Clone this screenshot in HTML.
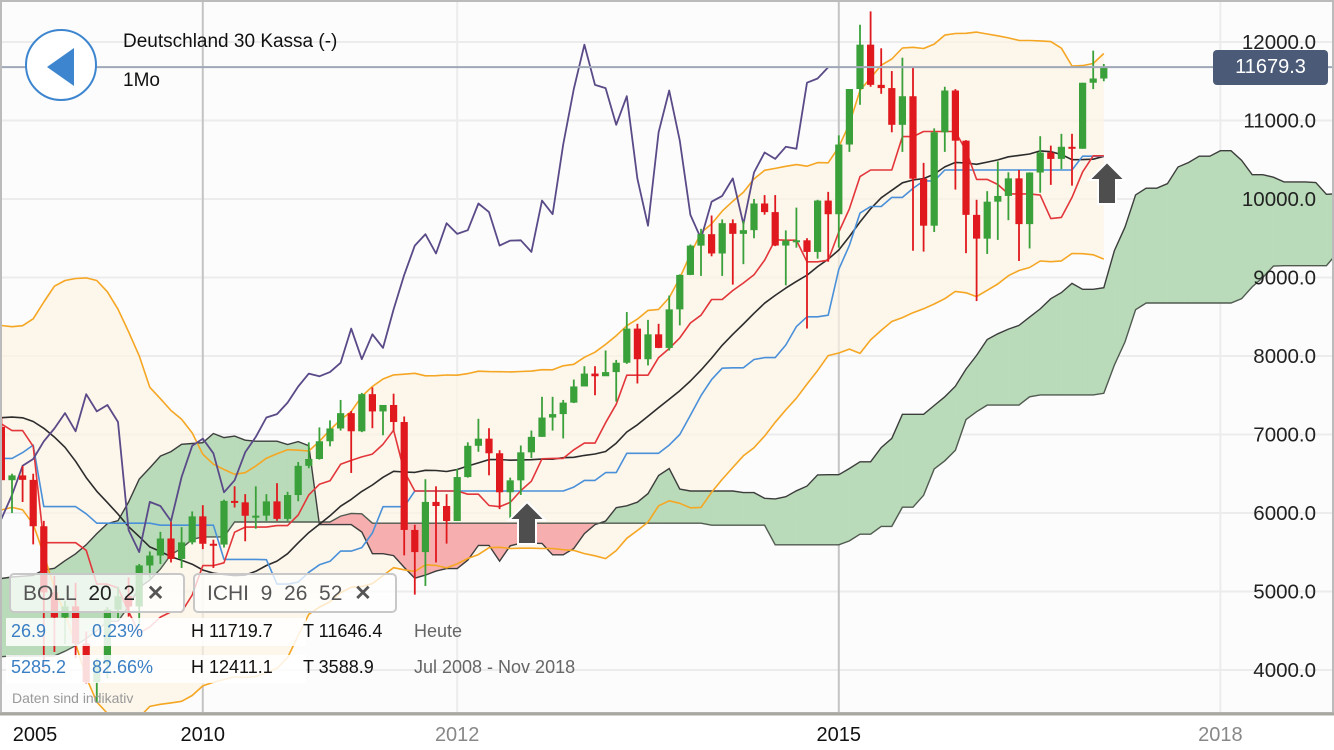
<!DOCTYPE html>
<html><head><meta charset="utf-8">
<style>
html,body{margin:0;padding:0;background:#fff;}
#wrap{position:relative;width:1334px;height:750px;overflow:hidden;font-family:"Liberation Sans",sans-serif;}
svg{position:absolute;left:0;top:0;}
.t{position:absolute;white-space:nowrap;}
</style></head><body>
<div id="wrap">
<svg id="chart" width="1334" height="750"></svg>
<div class="t" style="left:25px;top:29px;width:72px;height:72px;border:2px solid #3d86cf;border-radius:50%;background:#fff;box-sizing:border-box;">
 <div style="position:absolute;left:20px;top:17px;width:0;height:0;border-top:19px solid transparent;border-bottom:19px solid transparent;border-right:27px solid #3d86cf;"></div>
</div>
<div class="t" style="left:123px;top:31px;font-size:19px;color:#111;">Deutschland 30 Kassa (-)</div>
<div class="t" style="left:123px;top:70px;font-size:19px;color:#111;">1Mo</div>
<div class="t" style="left:1213px;top:50px;width:115px;height:35px;background:#4b5b77;border-radius:4px;color:#fff;font-size:20px;line-height:35px;text-align:center;">11679.3</div>
<div class="t" style="left:9px;top:573px;width:176px;height:40px;border:2px solid #c8c8c8;border-radius:5px;background:rgba(255,255,255,0.75);box-sizing:border-box;font-size:21px;line-height:38px;color:#555;padding-left:12px;">BOLL&nbsp;&nbsp;<span style="color:#222">20&nbsp;&nbsp;2</span>&nbsp;&nbsp;<b style="color:#555">✕</b></div>
<div class="t" style="left:193px;top:573px;width:204px;height:40px;border:2px solid #c8c8c8;border-radius:5px;background:rgba(255,255,255,0.75);box-sizing:border-box;font-size:21px;line-height:38px;color:#555;padding-left:12px;">ICHI&nbsp;&nbsp;9&nbsp;&nbsp;26&nbsp;&nbsp;52&nbsp;&nbsp;<b>✕</b></div>
<div class="t" style="left:6px;top:618px;width:300px;height:28px;background:rgba(255,255,255,0.85);"></div>
<div class="t" style="left:6px;top:655px;width:300px;height:28px;background:rgba(255,255,255,0.85);"></div>
<div class="t" style="left:11px;top:621px;font-size:18px;color:#3a7fc4;">26.9</div>
<div class="t" style="left:92px;top:621px;font-size:18px;color:#3a7fc4;">0.23%</div>
<div class="t" style="left:191px;top:621px;font-size:18px;color:#111;">H 11719.7</div>
<div class="t" style="left:303px;top:621px;font-size:18px;color:#111;">T 11646.4</div>
<div class="t" style="left:414px;top:621px;font-size:18px;color:#666;">Heute</div>
<div class="t" style="left:11px;top:657px;font-size:18px;color:#3a7fc4;">5285.2</div>
<div class="t" style="left:92px;top:657px;font-size:18px;color:#3a7fc4;">82.66%</div>
<div class="t" style="left:191px;top:657px;font-size:18px;color:#111;">H 12411.1</div>
<div class="t" style="left:303px;top:657px;font-size:18px;color:#111;">T 3588.9</div>
<div class="t" style="left:414px;top:657px;font-size:18px;color:#666;">Jul 2008 - Nov 2018</div>
<div class="t" style="left:12px;top:690px;font-size:14px;color:#999;">Daten sind indikativ</div>
</div>
<script>
// prehistory Jan 2002 - May 2008 (indicator warm-up)
const preH=[5460,5180,5470,5420,5160,4830,4420,3990,3700,3250,3470,3370,3160,2870,2790,2960,3000,3330,3500,3630,3680,3660,3820,3970,4160,4160,4060,4010,3990,4100,4050,3880,3950,3990,4140,4290,4330,4390,4440,4370,4480,4640,4900,4970,5050,5120,5230,5460,5680,5850,6050,6140,6160,5720,5700,5860,6000,6280,6420,6600,6800,7040,6950,7420,7900,8090,8150,7700,7880,8050,8060,8100,8100,7100,6840,6980,7230];
const preL=[4960,4800,5000,5000,4700,4170,3390,3360,2730,2520,3000,2800,2600,2430,2200,2420,2790,2950,3180,3250,3240,3240,3620,3740,3930,3970,3690,3810,3770,3870,3710,3620,3770,3840,3940,4110,4170,4210,4280,4140,4150,4440,4560,4760,4800,4840,4880,5160,5300,5600,5770,5900,5500,5240,5390,5580,5780,5970,6160,6270,6500,6680,6440,6870,7400,7700,7500,7150,7340,7680,7530,7740,6380,6640,6170,6400,6910];
const preC=[5108,5039,5398,5042,4818,4383,3700,3713,2769,3153,3320,2893,2748,2547,2424,2942,2983,3221,3487,3485,3257,3655,3746,3965,4059,4018,3857,3985,3921,4053,3895,3786,3893,3960,4126,4256,4255,4350,4349,4184,4461,4586,4887,4830,5044,4930,5193,5408,5674,5797,5970,6009,5693,5683,5681,5859,5991,6268,6309,6597,6789,6716,6917,7409,7884,8007,7584,7638,7862,8020,7871,8067,6851,6748,6535,6949,7097];
// displayed candles Jun 2008 - Feb 2017
const opens=[7097,6418,6479,6422,5831,4988,4669,4810,4338,3844,4085,4769,4941,4809,5332,5458,5675,5415,5626,5957,5608,5598,6154,6136,5965,5966,6148,5925,6229,6601,6688,6914,7077,7272,7041,7514,7294,7376,7159,5784,5502,6141,6089,5898,6458,6856,6947,6761,6264,6416,6773,6970,7216,7260,7406,7612,7776,7742,7795,7914,8349,7959,8276,8103,8594,9033,9406,9552,9306,9692,9556,9603,9943,9833,9407,9470,9474,9326,9980,9806,10694,11401,11966,11454,11413,10945,11309,10259,9660,10850,11382,10743,9798,9495,9966,10039,10263,9680,10337,10592,10511,10665,10640,11481,11535];
const highs=[7220,6500,6600,6500,5900,5200,4880,5110,4490,4150,4800,5060,5180,5350,5510,5760,5890,5820,6020,6100,5660,6170,6340,6240,6340,6240,6380,6270,6650,6900,7090,7180,7440,7300,7530,7600,7350,7520,7230,5850,6430,6340,6240,6560,6900,7200,7080,6800,6450,6860,7050,7480,7480,7440,7700,7870,7870,8070,7950,8560,8410,8460,8410,8770,9040,9420,9620,9790,9740,9740,9720,10000,10050,10050,9600,9890,9500,9990,10090,10810,11400,12220,12390,11920,11630,11800,11670,10460,10900,11430,11400,10750,9990,10100,10480,10340,10370,10340,10800,10680,10830,10830,11480,11890,11720];
const lows=[6420,6000,6140,5600,4014,4230,4330,4150,3830,3589,3890,4660,4680,4560,5170,5350,5370,5300,5600,5540,5300,5560,6070,5640,5800,5900,5900,5900,6150,6570,6680,6850,7050,6510,7030,7080,6990,7050,5460,4960,5070,5370,5610,5900,6450,6780,6480,6050,5910,6230,6700,6970,7050,6950,7400,7640,7500,7750,7420,7900,7650,7880,8100,8070,8390,9030,9020,9270,9020,8910,9170,9500,9800,9400,8900,9380,8350,9240,9200,9380,10600,11200,11430,11340,10850,10600,9340,9330,9580,10600,10120,9310,8700,9300,9480,9730,9210,9370,10080,10180,10380,10170,10640,11400,11500];
const closes=[6418,6479,6422,5831,4988,4669,4810,4338,3844,4085,4769,4941,4809,5332,5458,5675,5415,5626,5957,5608,5598,6154,6136,5965,5966,6148,5925,6229,6601,6688,6914,7077,7272,7041,7514,7294,7376,7159,5784,5502,6141,6089,5898,6458,6856,6947,6761,6264,6416,6773,6970,7216,7260,7406,7612,7776,7742,7795,7914,8349,7959,8276,8103,8594,9033,9406,9552,9306,9692,9556,9603,9943,9833,9407,9470,9474,9326,9980,9806,10694,11401,11966,11454,11413,10945,11309,10259,9660,10850,11382,10743,9798,9495,9966,10039,10263,9680,10337,10592,10511,10665,10640,11481,11535,11679];
const yTicks=[12000,11000,10000,9000,8000,7000,6000,5000,4000];
const xLabels=["2005","2010","2012","2015","2018"];
const xLabelMonthIdx=[-31,18,42,78,114]; // months relative to Jul 2008
const xLabelStrong=[true,true,false,true,false];
const currentPrice=11679.3;

const NS="http://www.w3.org/2000/svg";
const svg=document.getElementById('chart');
const H=preH.concat(highs), L=preL.concat(lows), C=preC.concat(closes);
const N=C.length, P0=preC.length, J=78;
function x(k){return 12+(k-J)*10.6;}
function y(v){return 42+(12000-v)*0.0785;}
function mk(tag,attrs,parent){const e=document.createElementNS(NS,tag);for(const a in attrs)e.setAttribute(a,attrs[a]);(parent||svg).appendChild(e);return e;}
function pts(arr){return arr.map(p=>p[0].toFixed(1)+','+p[1].toFixed(1)).join(' ');}
function hh(k,n){let m=-1e9;for(let j=k-n+1;j<=k;j++)m=Math.max(m,H[j]);return m;}
function ll(k,n){let m=1e9;for(let j=k-n+1;j<=k;j++)m=Math.min(m,L[j]);return m;}

let bg=mk('rect',{x:0,y:0,width:1334,height:713,fill:'#fcfcfc'});


const clip=mk('clipPath',{id:'pc'});mk('rect',{x:0,y:0,width:1334,height:713},clip);
const g=mk('g',{'clip-path':'url(#pc)'});



yTicks.forEach(v=>{const l=mk('line',{x1:0,x2:1334,y1:y(v),y2:y(v),stroke:'#ececec','stroke-width':2},g);

});
xLabels.forEach((s,i)=>{const xx=12+xLabelMonthIdx[i]*10.6;const l=mk('line',{x1:xx,x2:xx,y1:0,y2:713,stroke:xLabelStrong[i]?'#c4c4c4':'#ececec','stroke-width':2},g);

});

const ten=[],kij=[],sma=[],up=[],lo=[];
for(let k=0;k<N;k++){
 ten[k]=k>=8?(hh(k,9)+ll(k,9))/2:null;
 kij[k]=k>=25?(hh(k,26)+ll(k,26))/2:null;
 if(k>=19){let s=0;for(let j=k-19;j<=k;j++)s+=C[j];const m=s/20;let q=0;for(let j=k-19;j<=k;j++)q+=(C[j]-m)**2;const sd=Math.sqrt(q/20);sma[k]=m;up[k]=m+2*sd;lo[k]=m-2*sd;}
}
const kStart=P0-1;
// bollinger fill (under cloud)
const upP=[],loP=[];
for(let k=kStart;k<N;k++){upP.push([x(k),y(up[k])]);loP.push([x(k),y(lo[k])]);}
let bf=mk('polygon',{points:pts(upP.concat(loP.slice().reverse())),fill:'#fcf4e4','fill-opacity':0.7},g);


// cloud
const spA=[],spB=[];
for(let k=51;k<N;k++){spA.push([k+26,(ten[k]+kij[k])/2]);spB.push([k+26,(hh(k,52)+ll(k,52))/2]);}
const cloudG=mk('g',{},g);


for(let i=0;i<spA.length-1;i++){
 const k=spA[i][0];if(x(k+1)<-20||x(k)>1360)continue;
 const a1=spA[i][1],a2=spA[i+1][1],b1=spB[i][1],b2=spB[i+1][1];
 const d1=a1-b1,d2=a2-b2;
 const seg=(t0,t1,col)=>{const xa=x(k)+t0*10.6,xb=x(k)+t1*10.6;
  const A0=a1+(a2-a1)*t0,A1=a1+(a2-a1)*t1,B0=b1+(b2-b1)*t0,B1=b1+(b2-b1)*t1;
  const p=mk('polygon',{points:pts([[xa,y(A0)],[xb,y(A1)],[xb,y(B1)],[xa,y(B0)]]),fill:col,stroke:col,'stroke-width':0.6},cloudG);
  
  };
 const G='#b9dbb9',R='#f6aeae';
 if(d1*d2<0){const t=d1/(d1-d2);seg(0,t,d1>0?G:R);seg(t,1,d2>0?G:R);}else seg(0,1,(d1+d2)>=0?G:R);
}
let la=mk('polyline',{points:pts(spA.map(p=>[x(p[0]),y(p[1])])),fill:'none',stroke:'#3d3d3d','stroke-width':1.4},g);


let lb=mk('polyline',{points:pts(spB.map(p=>[x(p[0]),y(p[1])])),fill:'none',stroke:'#505a50','stroke-width':1.4},g);



function line(arr,col,w,from){const p=[];for(let k=from;k<N;k++)if(arr[k]!=null)p.push([x(k),y(arr[k])]);
 return mk('polyline',{points:pts(p),fill:'none',stroke:col,'stroke-width':w,'stroke-linejoin':'round'},g);}
let e1=line(up,'#f5a623',1.6,kStart);


let e2=line(lo,'#f5a623',1.6,kStart);


let e3=line(sma,'#2c2c2c',1.6,kStart);


let e4=line(kij,'#4a90d9',1.6,kStart);


let e5=line(ten,'#e3363a',1.6,kStart);


const chP=[];for(let k=kStart;k<N;k++)chP.push([x(k-26),y(C[k])]);
let ch=mk('polyline',{points:pts(chP),fill:'none',stroke:'#5a4a88','stroke-width':1.8,'stroke-linejoin':'round'},g);



for(let i=0;i<closes.length;i++){
 const k=P0+i,xx=x(k),o=opens[i],c=closes[i],up1=c>=o,col=up1?'#3aa03a':'#e0191e';
 const cg=mk('g',{},g);
 
 
 mk('line',{x1:xx,x2:xx,y1:y(highs[i]),y2:y(lows[i]),stroke:col,'stroke-width':1.8},cg);
 const t=y(Math.max(o,c)),b=y(Math.min(o,c));
 mk('rect',{x:xx-3.6,y:t,width:7.2,height:Math.max(2,b-t),fill:col},cg);
}
function arrow(cx,ty,name){const p=mk('polygon',{points:pts([[cx,ty],[cx+18,ty+18],[cx+9,ty+18],[cx+9,ty+42],[cx-9,ty+42],[cx-9,ty+18],[cx-18,ty+18]]),fill:'#4e4e4e',stroke:'#fff','stroke-width':2},g);
 
 }
arrow(527,502,'buy-signal-arrow-2012');
arrow(1107,162,'buy-signal-arrow-2017');

let pl=mk('line',{x1:0,x2:1334,y1:y(currentPrice),y2:y(currentPrice),stroke:'#9ea8b8','stroke-width':2});


yTicks.forEach(v=>{const t=mk('text',{x:1316,y:y(v)+7,'text-anchor':'end','font-size':20.5,fill:'#222','font-family':'Liberation Sans, sans-serif'});t.textContent=v.toFixed(1);

});
let bd=mk('rect',{x:1,y:1,width:1332,height:712,fill:'none',stroke:'#bbb','stroke-width':2});


let bl=mk('line',{x1:0,x2:1334,y1:714,y2:714,stroke:'#a8a8a0','stroke-width':3});


xLabels.forEach((s,i)=>{const xx=Math.max(35,12+xLabelMonthIdx[i]*10.6);
 if(xLabelStrong[i]){const r=mk('rect',{x:xx-36,y:718,width:72,height:32,fill:'#fff'});
 
 }
 const t=mk('text',{x:xx,y:741,'text-anchor':'middle','font-size':20,fill:xLabelStrong[i]?'#111':'#888','font-family':'Liberation Sans, sans-serif'});t.textContent=s;
 
 });
</script>
</body></html>
